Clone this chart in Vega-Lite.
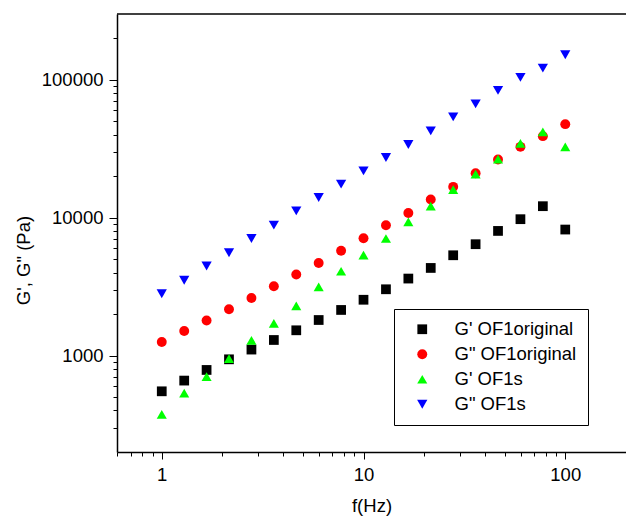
{
  "$schema": "https://vega.github.io/schema/vega-lite/v6.json",
  "width": 509,
  "height": 438,
  "autosize": {"type": "none"},
  "padding": {"left": 117, "top": 14, "right": 0, "bottom": 68},
  "background": "white",
  "config": {"view": {"stroke": null}, "font": "Liberation Sans"},
  "layer": [
    {
      "data": {"values": [{"top": 300000}]},
      "mark": {"type": "rule", "color": "black", "strokeWidth": 1.5},
      "encoding": {"y": {"field": "top", "type": "quantitative"}}
    },
    {
      "data": {
        "values": [
          {"series": "G' OF1original", "f": 1, "G": 551},
          {"series": "G' OF1original", "f": 1.292, "G": 659},
          {"series": "G' OF1original", "f": 1.668, "G": 787},
          {"series": "G' OF1original", "f": 2.154, "G": 940},
          {"series": "G' OF1original", "f": 2.783, "G": 1106},
          {"series": "G' OF1original", "f": 3.594, "G": 1298},
          {"series": "G' OF1original", "f": 4.642, "G": 1526},
          {"series": "G' OF1original", "f": 5.995, "G": 1812},
          {"series": "G' OF1original", "f": 7.743, "G": 2143},
          {"series": "G' OF1original", "f": 10, "G": 2541},
          {"series": "G' OF1original", "f": 12.92, "G": 3027},
          {"series": "G' OF1original", "f": 16.68, "G": 3620},
          {"series": "G' OF1original", "f": 21.54, "G": 4322},
          {"series": "G' OF1original", "f": 27.83, "G": 5341},
          {"series": "G' OF1original", "f": 35.94, "G": 6424},
          {"series": "G' OF1original", "f": 46.42, "G": 8019},
          {"series": "G' OF1original", "f": 59.95, "G": 9755},
          {"series": "G' OF1original", "f": 77.43, "G": 12120},
          {"series": "G' OF1original", "f": 100, "G": 8206},
          {"series": "G\" OF1original", "f": 1, "G": 1256},
          {"series": "G\" OF1original", "f": 1.292, "G": 1509},
          {"series": "G\" OF1original", "f": 1.668, "G": 1795},
          {"series": "G\" OF1original", "f": 2.154, "G": 2168},
          {"series": "G\" OF1original", "f": 2.783, "G": 2618},
          {"series": "G\" OF1original", "f": 3.594, "G": 3184},
          {"series": "G\" OF1original", "f": 4.642, "G": 3870},
          {"series": "G\" OF1original", "f": 5.995, "G": 4699},
          {"series": "G\" OF1original", "f": 7.743, "G": 5761},
          {"series": "G\" OF1original", "f": 10, "G": 7100},
          {"series": "G\" OF1original", "f": 12.92, "G": 8826},
          {"series": "G\" OF1original", "f": 16.68, "G": 10830},
          {"series": "G\" OF1original", "f": 21.54, "G": 13560},
          {"series": "G\" OF1original", "f": 27.83, "G": 16740},
          {"series": "G\" OF1original", "f": 35.94, "G": 21030},
          {"series": "G\" OF1original", "f": 46.42, "G": 26450},
          {"series": "G\" OF1original", "f": 59.95, "G": 32640},
          {"series": "G\" OF1original", "f": 77.43, "G": 39030},
          {"series": "G\" OF1original", "f": 100, "G": 47700},
          {"series": "G' OF1s", "f": 1, "G": 375},
          {"series": "G' OF1s", "f": 1.292, "G": 535},
          {"series": "G' OF1s", "f": 1.668, "G": 704},
          {"series": "G' OF1s", "f": 2.154, "G": 951},
          {"series": "G' OF1s", "f": 2.783, "G": 1291},
          {"series": "G' OF1s", "f": 3.594, "G": 1716},
          {"series": "G' OF1s", "f": 4.642, "G": 2298},
          {"series": "G' OF1s", "f": 5.995, "G": 3147},
          {"series": "G' OF1s", "f": 7.743, "G": 4090},
          {"series": "G' OF1s", "f": 10, "G": 5360},
          {"series": "G' OF1s", "f": 12.92, "G": 7066},
          {"series": "G' OF1s", "f": 16.68, "G": 9325},
          {"series": "G' OF1s", "f": 21.54, "G": 12120},
          {"series": "G' OF1s", "f": 27.83, "G": 15960},
          {"series": "G' OF1s", "f": 35.94, "G": 20690},
          {"series": "G' OF1s", "f": 46.42, "G": 26580},
          {"series": "G' OF1s", "f": 59.95, "G": 34550},
          {"series": "G' OF1s", "f": 77.43, "G": 41950},
          {"series": "G' OF1s", "f": 100, "G": 32640},
          {"series": "G\" OF1s", "f": 1, "G": 2809},
          {"series": "G\" OF1s", "f": 1.292, "G": 3520},
          {"series": "G\" OF1s", "f": 1.668, "G": 4462},
          {"series": "G\" OF1s", "f": 2.154, "G": 5572},
          {"series": "G\" OF1s", "f": 2.783, "G": 7066},
          {"series": "G\" OF1s", "f": 3.594, "G": 8826},
          {"series": "G\" OF1s", "f": 4.642, "G": 11205},
          {"series": "G\" OF1s", "f": 5.995, "G": 14020},
          {"series": "G\" OF1s", "f": 7.743, "G": 17500},
          {"series": "G\" OF1s", "f": 10, "G": 21870},
          {"series": "G\" OF1s", "f": 12.92, "G": 27340},
          {"series": "G\" OF1s", "f": 16.68, "G": 33980},
          {"series": "G\" OF1s", "f": 21.54, "G": 42660},
          {"series": "G\" OF1s", "f": 27.83, "G": 53890},
          {"series": "G\" OF1s", "f": 35.94, "G": 66960},
          {"series": "G\" OF1s", "f": 46.42, "G": 83790},
          {"series": "G\" OF1s", "f": 59.95, "G": 104080},
          {"series": "G\" OF1s", "f": 77.43, "G": 121600},
          {"series": "G\" OF1s", "f": 100, "G": 151800}
        ]
      },
      "mark": {"type": "point", "filled": true, "opacity": 1, "strokeWidth": 0},
      "encoding": {
        "x": {
          "field": "f",
          "type": "quantitative",
          "scale": {"type": "log", "domain": [0.6, 200], "nice": false},
          "axis": {
            "title": "f(Hz)",
            "values": [0.6, 0.7, 0.8, 0.9, 1, 2, 3, 4, 5, 6, 7, 8, 9, 10, 20, 30, 40, 50, 60, 70, 80, 90, 100],
            "labelExpr": "abs(log(datum.value)/LN10 - round(log(datum.value)/LN10)) < 1e-6 ? format(datum.value, 'd') : ''",
            "tickSize": {"condition": {"test": "abs(log(datum.value)/LN10 - round(log(datum.value)/LN10)) < 1e-6", "value": 7}, "value": 4},
            "grid": false,
            "domainColor": "black",
            "domainWidth": 1.5,
            "tickColor": "black",
            "tickWidth": 1,
            "labelColor": "black",
            "labelFontSize": 18.5,
            "labelPadding": 6,
            "labelOverlap": false,
            "labelBound": false,
            "labelFlush": false,
            "titleColor": "black",
            "titleFontSize": 18.5,
            "titleFontWeight": "normal",
            "titlePadding": 13
          }
        },
        "y": {
          "field": "G",
          "type": "quantitative",
          "scale": {"type": "log", "domain": [200, 300000], "nice": false},
          "axis": {
            "title": "G', G\" (Pa)",
            "values": [300, 400, 500, 600, 700, 800, 900, 1000, 2000, 3000, 4000, 5000, 6000, 7000, 8000, 9000, 10000, 20000, 30000, 40000, 50000, 60000, 70000, 80000, 90000, 100000, 200000],
            "labelExpr": "abs(log(datum.value)/LN10 - round(log(datum.value)/LN10)) < 1e-6 ? format(datum.value, 'd') : ''",
            "tickSize": {"condition": {"test": "abs(log(datum.value)/LN10 - round(log(datum.value)/LN10)) < 1e-6", "value": 8}, "value": 4},
            "grid": false,
            "domainColor": "black",
            "domainWidth": 1.5,
            "tickColor": "black",
            "tickWidth": 1,
            "labelColor": "black",
            "labelFontSize": 18.5,
            "labelPadding": 6,
            "labelOverlap": false,
            "labelBound": false,
            "labelFlush": false,
            "titleColor": "black",
            "titleFontSize": 18.5,
            "titleFontWeight": "normal",
            "titleX": -84,
            "titleY": 246,
            "titleAlign": "center",
            "titleBaseline": "bottom",
            "titleAngle": -90
          }
        },
        "color": {
          "field": "series",
          "type": "nominal",
          "scale": {
            "domain": ["G' OF1original", "G\" OF1original", "G' OF1s", "G\" OF1s"],
            "range": ["#000000", "#ff0000", "#00ff00", "#0000ff"]
          },
          "legend": {
            "title": null,
            "orient": "none",
            "legendX": 277,
            "legendY": 295,
            "strokeColor": "black",
            "fillColor": "white",
            "padding": 11,
            "symbolOffset": 8,
            "symbolStrokeWidth": 0,
            "labelFontSize": 18.5,
            "labelColor": "black",
            "labelOffset": 23,
            "labelLimit": 400,
            "rowPadding": 6
          }
        },
        "shape": {
          "field": "series",
          "type": "nominal",
          "scale": {
            "domain": ["G' OF1original", "G\" OF1original", "G' OF1s", "G\" OF1s"],
            "range": ["square", "circle", "triangle-up", "triangle-down"]
          }
        },
        "size": {
          "field": "series",
          "type": "nominal",
          "scale": {
            "domain": ["G' OF1original", "G\" OF1original", "G' OF1s", "G\" OF1s"],
            "range": [95, 105, 190, 190]
          }
        }
      }
    }
  ]
}
